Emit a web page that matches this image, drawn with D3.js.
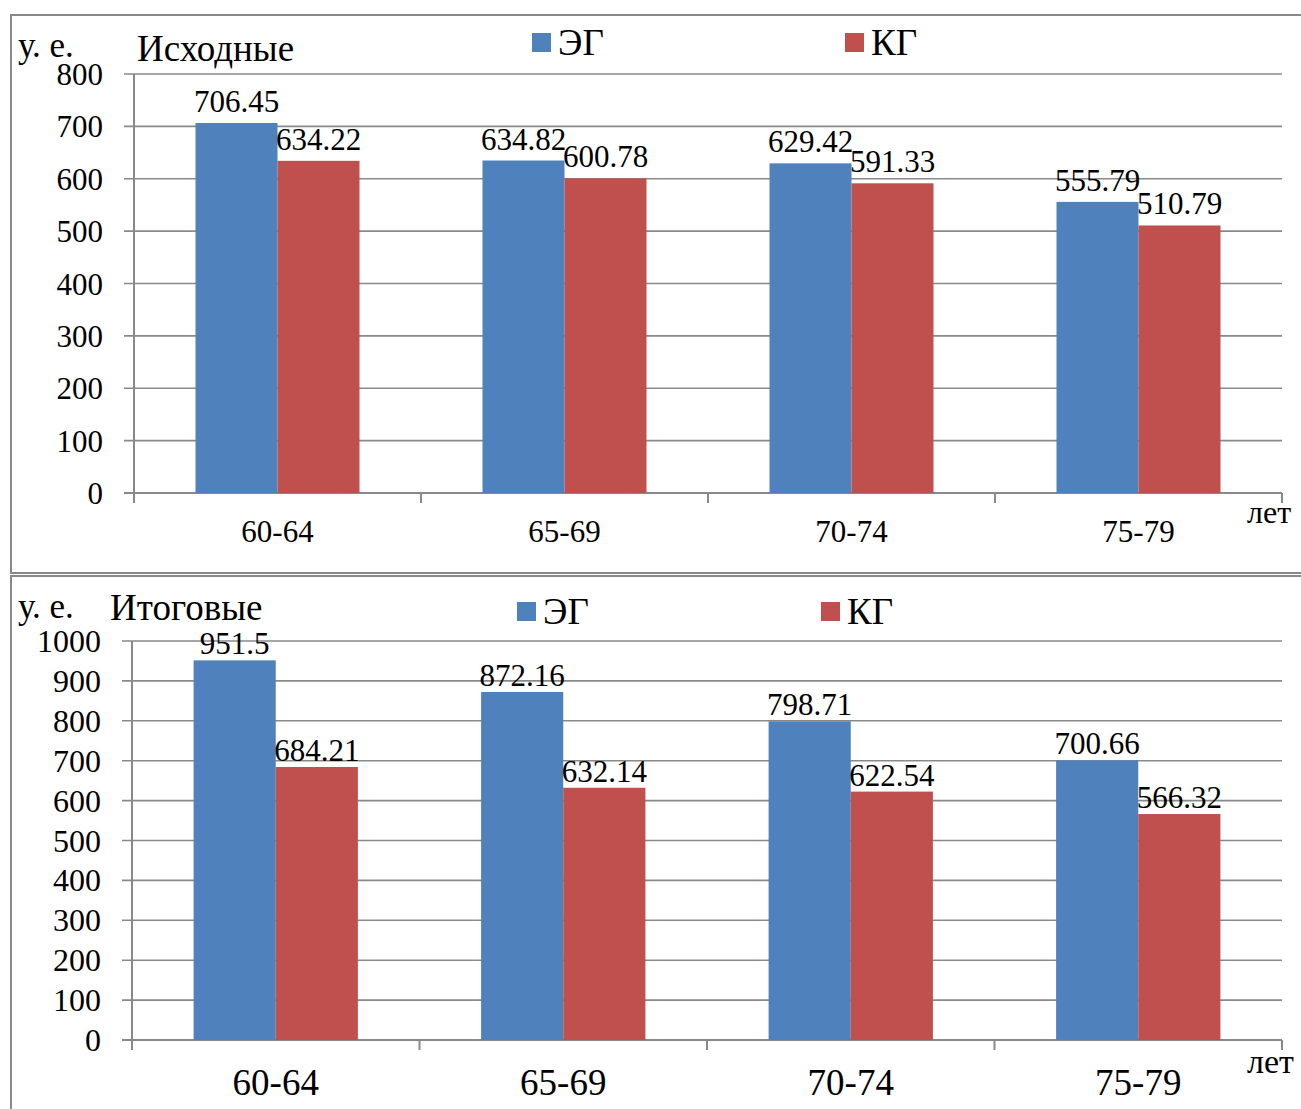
<!DOCTYPE html>
<html>
<head>
<meta charset="utf-8">
<script src="https://cdn.jsdelivr.net/npm/d3@7"></script>
<style>
  html, body { margin: 0; padding: 0; background: #fff; }
  svg { display: block; }
  text { font-family: "Liberation Serif", "Times New Roman", serif; fill: #000; }
</style>
</head>
<body>
<svg id="chart" width="1301" height="1109"></svg>
<script>
// Age groups and series
const categories = ["60-64", "65-69", "70-74", "75-79"];
const seriesNames = ["ЭГ", "КГ"];
const seriesColors = ["#4F81BD", "#C0504D"];

// Initial values (у. е.)
const initialEG = [706.45, 634.82, 629.42, 555.79];
const initialKG = [634.22, 600.78, 591.33, 510.79];
// Final values (у. е.)
const finalEG = [951.5, 872.16, 798.71, 700.66];
const finalKG = [684.21, 632.14, 622.54, 566.32];

const initialTicks = [0, 100, 200, 300, 400, 500, 600, 700, 800];
const finalTicks = [0, 100, 200, 300, 400, 500, 600, 700, 800, 900, 1000];

const svg = d3.select("#chart");
const gridColor = "#898989";

// Panel frames
svg.append("rect").attr("x", 11).attr("y", 15).attr("width", 1300).attr("height", 558)
  .attr("fill", "none").attr("stroke", gridColor).attr("stroke-width", 2);
svg.append("rect").attr("x", 11).attr("y", 576).attr("width", 1300).attr("height", 560)
  .attr("fill", "none").attr("stroke", gridColor).attr("stroke-width", 2);

function drawPanel(cfg) {
  const g = svg.append("g");
  const x = d3.scaleBand().domain(categories).range([cfg.left, cfg.right]).padding(0);
  const xs = d3.scaleBand().domain(seriesNames).range([0, x.bandwidth()])
    .paddingInner(0).paddingOuter(0.75);
  const y = d3.scaleLinear().domain([0, cfg.max]).range([cfg.bottom, cfg.top]);

  // horizontal gridlines with left tick marks
  g.selectAll("line.grid").data(cfg.ticks).join("line")
    .attr("x1", cfg.left - 10).attr("x2", cfg.right)
    .attr("y1", d => y(d)).attr("y2", d => y(d))
    .attr("stroke", gridColor).attr("stroke-width", d => d === 0 ? 2 : 1.6);

  // y axis line
  g.append("line").attr("x1", cfg.left).attr("x2", cfg.left)
    .attr("y1", y(cfg.max)).attr("y2", cfg.bottom + 10)
    .attr("stroke", gridColor).attr("stroke-width", 2);

  // x axis category boundary ticks
  const bounds = categories.map(c => x(c)).concat([cfg.right]);
  g.selectAll("line.xt").data(bounds.slice(1)).join("line")
    .attr("x1", d => d).attr("x2", d => d)
    .attr("y1", cfg.bottom).attr("y2", cfg.bottom + 10)
    .attr("stroke", gridColor).attr("stroke-width", 2);

  // y tick labels
  g.selectAll("text.yl").data(cfg.ticks).join("text")
    .attr("x", cfg.left - 31).attr("y", d => y(d) + 11)
    .attr("text-anchor", "end").style("font-size", cfg.tickFont + "px")
    .text(d => d);

  // bars
  const rows = categories.map((c, i) => ({
    cat: c,
    vals: cfg.series.map((s, j) => ({ name: seriesNames[j], value: s[i], color: seriesColors[j] }))
  }));
  const groups = g.selectAll("g.cat").data(rows).join("g")
    .attr("transform", d => `translate(${x(d.cat)},0)`);
  groups.selectAll("rect").data(d => d.vals).join("rect")
    .attr("x", d => xs(d.name)).attr("width", xs.bandwidth())
    .attr("y", d => y(d.value)).attr("height", d => cfg.bottom - y(d.value))
    .attr("fill", d => d.color);
  groups.selectAll("text").data(d => d.vals).join("text")
    .attr("x", d => xs(d.name) + xs.bandwidth() / 2)
    .attr("y", d => y(d.value) - cfg.labelGap)
    .attr("text-anchor", "middle").style("font-size", "31px")
    .text(d => String(d.value));

  // category labels
  g.selectAll("text.cl").data(categories).join("text")
    .attr("x", d => x(d) + x.bandwidth() / 2).attr("y", cfg.catY)
    .attr("text-anchor", "middle").style("font-size", cfg.catFont + "px")
    .text(d => d);

  // unit labels and title
  g.append("text").attr("x", 18).attr("y", cfg.unitY).style("font-size", "35px").text("у. е.");
  g.append("text").attr("x", cfg.titleX).attr("y", cfg.titleY).style("font-size", "37px").text(cfg.title);
  g.append("text").attr("x", 1247).attr("y", cfg.letY).style("font-size", cfg.letFont + "px").text("лет");

  // legend
  cfg.legend.forEach((lx, j) => {
    g.append("rect").attr("x", lx).attr("y", cfg.legendY).attr("width", 19).attr("height", 19)
      .attr("fill", seriesColors[j]);
    g.append("text").attr("x", lx + 26).attr("y", cfg.legendY + 22)
      .style("font-size", "37px").text(seriesNames[j]);
  });
}

drawPanel({
  left: 134, right: 1282, top: 74, bottom: 493, max: 800, ticks: initialTicks,
  series: [initialEG, initialKG], labelGap: 11, tickFont: 31, catFont: 31, catY: 542,
  title: "Исходные", titleX: 137, titleY: 61, unitY: 57, letY: 523, letFont: 32,
  legend: [532, 845], legendY: 33
});

drawPanel({
  left: 132, right: 1282, top: 641, bottom: 1040, max: 1000, ticks: finalTicks,
  series: [finalEG, finalKG], labelGap: 6, tickFont: 32, catFont: 37, catY: 1095,
  title: "Итоговые", titleX: 110, titleY: 620, unitY: 618, letY: 1073, letFont: 34,
  legend: [517, 821], legendY: 602
});
</script>
</body>
</html>
